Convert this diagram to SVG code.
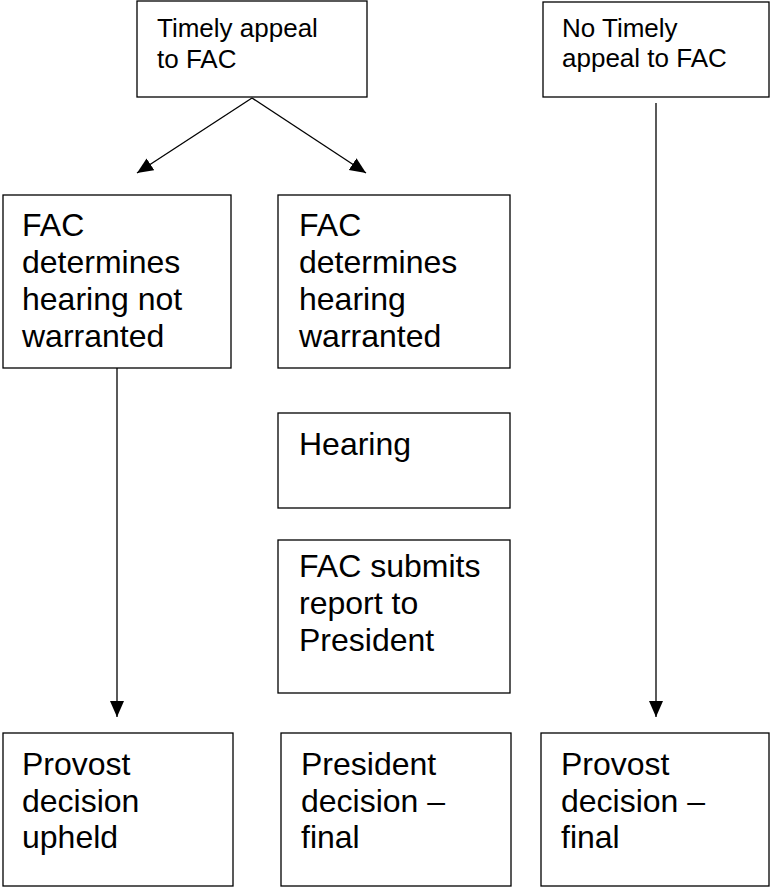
<svg xmlns="http://www.w3.org/2000/svg" width="771" height="888" viewBox="0 0 771 888">
<style>
.box{fill:#fff;stroke:#000;stroke-width:1.3}
.t{font-family:"Liberation Sans",Arial,sans-serif;font-size:32px;fill:#000}
.s{font-family:"Liberation Sans",Arial,sans-serif;font-size:26px;fill:#000}
.c{stroke:#000;stroke-width:1.3;fill:none}
</style>
<defs>
<marker id="ah" markerUnits="userSpaceOnUse" markerWidth="16" markerHeight="16" viewBox="0 0 16 14" refX="16" refY="7" orient="auto">
<path d="M0,0 L16,7 L0,14 Z" fill="#000"/>
</marker>
</defs>
<rect width="771" height="888" fill="#fff"/>
<g id="timely">
<rect class="box" x="137" y="1" width="230" height="96"/>
<text class="s" x="157" y="37">Timely appeal</text>
<text class="s" x="157" y="68">to FAC</text>
</g>
<g id="notimely">
<rect class="box" x="543" y="2" width="226" height="95"/>
<text class="s" x="562" y="37">No Timely</text>
<text class="s" x="562" y="67">appeal to FAC</text>
</g>
<g id="notwarranted">
<rect class="box" x="3" y="195" width="228" height="173"/>
<text class="t" x="22" y="236">FAC</text>
<text class="t" x="22" y="273">determines</text>
<text class="t" x="22" y="310">hearing not</text>
<text class="t" x="22" y="347">warranted</text>
</g>
<g id="warranted">
<rect class="box" x="278" y="195" width="232" height="173"/>
<text class="t" x="299" y="236">FAC</text>
<text class="t" x="299" y="273">determines</text>
<text class="t" x="299" y="310">hearing</text>
<text class="t" x="299" y="347">warranted</text>
</g>
<g id="hearing">
<rect class="box" x="278" y="413" width="232" height="95"/>
<text class="t" x="299" y="455">Hearing</text>
</g>
<g id="report">
<rect class="box" x="278" y="540" width="232" height="153"/>
<text class="t" x="299" y="577">FAC submits</text>
<text class="t" x="299" y="614">report to</text>
<text class="t" x="299" y="651">President</text>
</g>
<g id="upheld">
<rect class="box" x="3" y="733" width="230" height="153"/>
<text class="t" x="22" y="775">Provost</text>
<text class="t" x="22" y="812">decision</text>
<text class="t" x="22" y="848">upheld</text>
</g>
<g id="presfinal">
<rect class="box" x="281" y="733" width="230" height="153"/>
<text class="t" x="301" y="775">President</text>
<text class="t" x="301" y="812">decision –</text>
<text class="t" x="301" y="848">final</text>
</g>
<g id="provfinal">
<rect class="box" x="541" y="733" width="228" height="153"/>
<text class="t" x="561" y="775">Provost</text>
<text class="t" x="561" y="812">decision –</text>
<text class="t" x="561" y="848">final</text>
</g>
<g id="connectors">
<line class="c" x1="252" y1="98" x2="137" y2="173" marker-end="url(#ah)"/>
<line class="c" x1="252" y1="98" x2="366" y2="173" marker-end="url(#ah)"/>
<line class="c" x1="117" y1="368" x2="117" y2="717" marker-end="url(#ah)"/>
<line class="c" x1="656" y1="103" x2="656" y2="717" marker-end="url(#ah)"/>
</g>
</svg>
